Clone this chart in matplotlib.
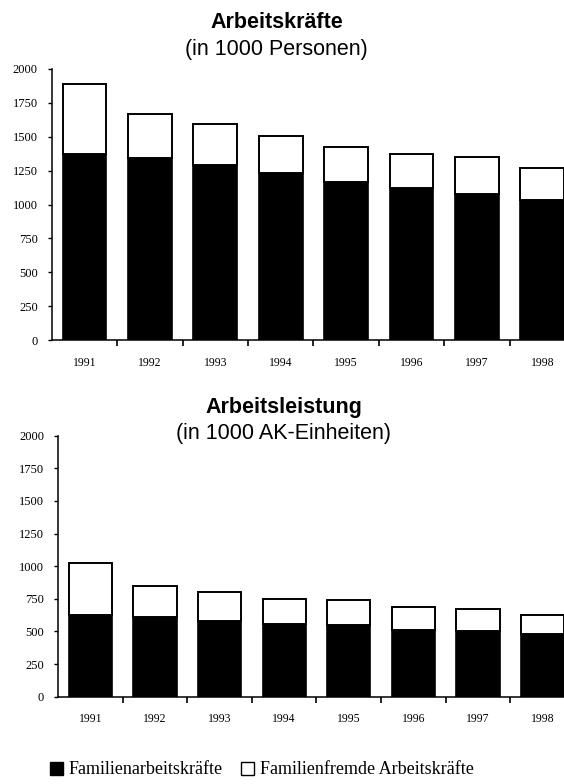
import matplotlib
matplotlib.use("Agg")
import matplotlib.pyplot as plt
from matplotlib.patches import Patch
import numpy as np

years = ["1991", "1992", "1993", "1994", "1995", "1996", "1997", "1998"]

# Arbeitskräfte (in 1000 Personen)
persons_family = [1376, 1344, 1293, 1234, 1166, 1120, 1081, 1032]
persons_total = [1886, 1669, 1591, 1508, 1425, 1371, 1354, 1271]

# Arbeitsleistung (in 1000 AK-Einheiten)
units_family = [626, 613, 582, 557, 552, 511, 500, 480]
units_total = [1021, 848, 802, 746, 741, 690, 674, 628]

y_ticks = [0, 250, 500, 750, 1000, 1250, 1500, 1750, 2000]

SANS = "Liberation Sans"
SERIF = "Liberation Serif"


def draw_panel(ax, family, total):
    x = np.arange(len(years))
    family = np.array(family)
    other = np.array(total) - family
    ax.bar(x, family, width=0.67, color="black", edgecolor="black", linewidth=1.2)
    ax.bar(x, other, bottom=family, width=0.67, color="white",
           edgecolor="black", linewidth=1.4)

    ax.set_ylim(0, 2000)
    ax.set_xlim(-0.5, 7.33)
    ax.set_yticks(y_ticks)
    ax.set_yticklabels([str(v) for v in y_ticks], fontfamily=SERIF, fontsize=9)
    ax.tick_params(axis="y", direction="out", length=3, width=1, pad=7)

    # year labels at bar centres, tick marks between bars
    ax.set_xticks(x)
    ax.set_xticklabels(years, fontfamily=SERIF, fontsize=8.5)
    ax.tick_params(axis="x", which="major", length=0, pad=12)
    ax.set_xticks(x[:-1] + 0.5, minor=True)
    ax.tick_params(axis="x", which="minor", direction="out", length=4, width=1.2)

    for side in ("top", "right"):
        ax.spines[side].set_visible(False)
    for side in ("left", "bottom"):
        ax.spines[side].set_linewidth(1.1)


fig = plt.figure(figsize=(5.64, 7.84), dpi=100)

ax1 = fig.add_axes([0.0917, 0.5663, 0.9083, 0.3457])
draw_panel(ax1, persons_family, persons_total)

ax2 = fig.add_axes([0.1028, 0.1114, 0.8972, 0.3329])
draw_panel(ax2, units_family, units_total)

fig.text(0.49, 1 - 22 / 784, "Arbeitskräfte", fontfamily=SANS, fontweight="bold",
         fontsize=15.5, ha="center", va="center")
fig.text(0.49, 1 - 50 / 784, "(in 1000 Personen)", fontfamily=SANS,
         fontsize=15.5, ha="center", va="center")
fig.text(0.503, 1 - 407 / 784, "Arbeitsleistung", fontfamily=SANS, fontweight="bold",
         fontsize=15.5, ha="center", va="center")
fig.text(0.503, 1 - 433 / 784, "(in 1000 AK-Einheiten)", fontfamily=SANS,
         fontsize=15.5, ha="center", va="center")

handles = [Patch(facecolor="black", edgecolor="black"),
           Patch(facecolor="white", edgecolor="black", linewidth=1)]
fig.legend(handles, ["Familienarbeitskräfte", "Familienfremde Arbeitskräfte"],
           loc="center left", bbox_to_anchor=(0.088, 1 - 770 / 784), ncol=2,
           frameon=False, prop={"family": SERIF, "size": 13},
           handlelength=0.75, handleheight=0.75, handletextpad=0.3,
           columnspacing=1.0, borderaxespad=0, borderpad=0)

fig.savefig("out.png", dpi=100)
